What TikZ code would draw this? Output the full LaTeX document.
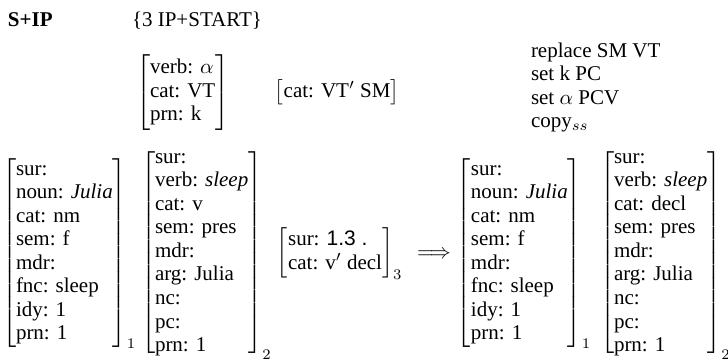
\documentclass[tikz,border=0pt]{standalone}
\usepackage{amsmath}
\usepackage[no-math]{fontspec}
\setmainfont{Liberation Serif}
\newfontfamily\numfont{Liberation Sans}

% attribute-value matrix body: one left-aligned column, no side padding
\newcommand{\avm}[1]{\begin{tabular}{@{}l@{}}#1\end{tabular}}

\tikzset{
  txt/.style={anchor=base west, inner sep=0pt, outer sep=0pt,
              font=\fontsize{10}{11.2}\selectfont},
}

\begin{document}
\begin{tikzpicture}[x=0.47619pt, y=-0.47619pt]
\useasboundingbox (0,0) rectangle (728,362);

% header line
\node[txt] (title) at (8,26) {\textbf{S+IP}};
\node[txt] (rule)  at (132,26) {\{3 IP+START\}};

% pattern of the rule
\node[txt] (pat)  at (136,98) {$\left[\avm{verb: $\alpha$\\ cat: VT\\ prn: k}\right]$};
\node[txt] (pat2) at (275,98) {$\left[\avm{cat: VT$'$ SM}\right]$};

% operations
\node[txt] (ops) at (531,57) {\begin{tabular}[t]{@{}l@{}}replace SM VT\\ set k PC\\ set $\alpha$ PCV\\ copy$_{ss}$\end{tabular}};

% input propositions
\node[txt] (in1) at (2,258) {$\left[\avm{sur:\\ noun: \textit{Julia}\\ cat: nm\\ sem: f\\ mdr:\\ fnc: sleep\\ idy: 1\\ prn: 1}\right]_1$};
\node[txt] (in2) at (141,258) {$\left[\avm{sur:\\ verb: \textit{sleep}\\ cat: v\\ sem: pres\\ mdr:\\ arg: Julia\\ nc:\\ pc:\\ prn: 1}\right]_2$};
\node[txt] (in3) at (277,258) {$\left[\avm{sur: {\numfont 1.3 .}\\ cat: v$'$ decl}\right]_3$};

\node[txt] (arr) at (417,258) {$\Longrightarrow$};

% output propositions
\node[txt] (out1) at (457,258) {$\left[\avm{sur:\\ noun: \textit{Julia}\\ cat: nm\\ sem: f\\ mdr:\\ fnc: sleep\\ idy: 1\\ prn: 1}\right]_1$};
\node[txt] (out2) at (600,258) {$\left[\avm{sur:\\ verb: \textit{sleep}\\ cat: decl\\ sem: pres\\ mdr:\\ arg: Julia\\ nc:\\ pc:\\ prn: 1}\right]_2$};
\end{tikzpicture}
\end{document}
